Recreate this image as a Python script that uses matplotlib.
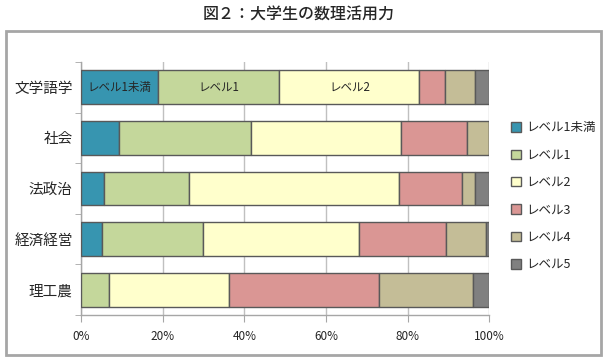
import matplotlib
matplotlib.use("Agg")
import matplotlib.pyplot as plt
from matplotlib.patches import Rectangle
import numpy as np

plt.rcParams['font.family'] = ['Noto Sans CJK JP', 'DejaVu Sans']

title = "図２：大学生の数理活用力"
categories = ["文学語学", "社会", "法政治", "経済経営", "理工農"]
levels = ["レベル1未満", "レベル1", "レベル2", "レベル3", "レベル4", "レベル5"]
values = {
    "レベル1未満": [18.8, 9.4, 5.7, 5.2, 0.0],
    "レベル1":     [29.8, 32.3, 20.8, 24.8, 6.9],
    "レベル2":     [34.3, 36.7, 51.5, 38.2, 29.4],
    "レベル3":     [6.2, 16.1, 15.2, 21.3, 36.8],
    "レベル4":     [7.5, 5.5, 3.4, 9.8, 23.0],
    "レベル5":     [3.4, 0.0, 3.4, 0.7, 3.9],
}
colors = ["#3795B0", "#C4D79B", "#FFFFCC", "#DA9694", "#C4BD97", "#808080"]
xticks = [0, 20, 40, 60, 80, 100]
xticklabels = ["0%", "20%", "40%", "60%", "80%", "100%"]
# labels drawn inside the first bar
inner_labels = ["レベル1未満", "レベル1", "レベル2"]

W, H = 608, 362
fig = plt.figure(figsize=(W / 100, H / 100), dpi=100)

# outer frame
fig.patches.append(Rectangle((6 / W, 1 - 355 / H), (601 - 6) / W, (355 - 31) / H,
                             transform=fig.transFigure, fill=False,
                             edgecolor="#A6A6A6", linewidth=2))

fig.text(299 / W, 1 - 15 / H, title, ha="center", va="center", fontsize=11.5,
         color="#262626", fontweight="medium")

ax = fig.add_axes([81 / W, 1 - 315 / H, (489.3 - 81) / W, (315 - 62) / H])

y = np.arange(len(categories))
left = np.zeros(len(categories))
for lvl, col in zip(levels, colors):
    vals = np.array(values[lvl])
    ax.barh(y, vals, left=left, height=0.67, color=col, edgecolor="#595959",
            linewidth=1.0, label=lvl, zorder=3)
    left = left + vals

# labels in the first category bar
cum = 0.0
for lvl in levels:
    v = values[lvl][0]
    if lvl in inner_labels:
        ax.text(cum + v / 2, 0, lvl, ha="center", va="center", fontsize=8.3,
                color="#262626", zorder=4)
    cum += v

ax.set_xlim(0, 100)
ax.set_ylim(len(categories) - 0.5, -0.5)
ax.set_xticks(xticks)
ax.set_xticklabels(xticklabels, fontsize=8.5, color="#262626")
ax.set_yticks(y)
ax.set_yticklabels(categories, fontsize=10.5, color="#262626")
ax.set_yticks(np.arange(-0.5, len(categories), 1), minor=True)
ax.tick_params(axis="y", which="major", length=0, pad=6)
ax.tick_params(axis="y", which="minor", length=4, color="#A6A6A6", direction="out")
ax.tick_params(axis="x", length=5, color="#A6A6A6", direction="out", pad=6)
ax.grid(axis="x", color="#C0C0C0", linewidth=1, zorder=0)
for s in ["top", "right"]:
    ax.spines[s].set_visible(False)
for s in ["left", "bottom"]:
    ax.spines[s].set_color("#A6A6A6")
    ax.spines[s].set_linewidth(1)

handles, labels = ax.get_legend_handles_labels()
leg = fig.legend(handles, labels, loc="upper left",
                 bbox_to_anchor=(505 / W, 1 - 115 / H), frameon=False,
                 fontsize=9, handlelength=0.8, handleheight=0.8,
                 labelspacing=1.15, handletextpad=0.4, borderpad=0)
for t in leg.get_texts():
    t.set_color("#262626")

fig.savefig("out.png", dpi=100)
